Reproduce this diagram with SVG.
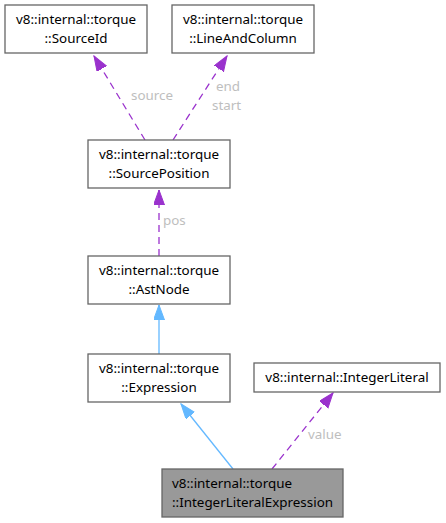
<svg xmlns="http://www.w3.org/2000/svg" width="446" height="523" viewBox="0 0 446 523">
<style>
.box{fill:#fff;stroke:#666;stroke-width:1.3}
.hl{fill:#999;stroke:#666;stroke-width:1.3}
.t{font-family:"Noto Sans",sans-serif;font-size:13.4px;fill:#000;text-anchor:middle}
.lbl{font-family:"Noto Sans",sans-serif;font-size:13.4px;fill:#bebebe}
.use{fill:none;stroke:#9a32cd;stroke-width:1.3;stroke-dasharray:7,5}
.inh{fill:none;stroke:#63b8ff;stroke-width:1.3}
</style>
<defs>
<marker id="ap" markerUnits="userSpaceOnUse" markerWidth="16" markerHeight="12" refX="15" refY="5.5" orient="auto">
<path d="M0,0 L15,5.5 L0,11 Z" fill="#9a32cd" stroke="#9a32cd"/>
</marker>
<marker id="ab" markerUnits="userSpaceOnUse" markerWidth="16" markerHeight="12" refX="15" refY="5.5" orient="auto">
<path d="M0,0 L15,5.5 L0,11 Z" fill="#63b8ff" stroke="#63b8ff"/>
</marker>
</defs>
<g id="edges">
<path class="use" d="M145,140 L94,56" marker-end="url(#ap)"/>
<path class="use" d="M173,140 L227,56" marker-end="url(#ap)"/>
<path class="use" d="M159,256 L159,190" marker-end="url(#ap)"/>
<path class="inh" d="M159,354 L159,305" marker-end="url(#ab)"/>
<path class="inh" d="M233,469 L181,404" marker-end="url(#ab)"/>
<path class="use" d="M272,469 L333,393" marker-end="url(#ap)"/>
<text class="lbl" x="131" y="100">source</text>
<text class="lbl" x="216" y="91">end</text>
<text class="lbl" x="212" y="110">start</text>
<text class="lbl" x="163" y="225">pos</text>
<text class="lbl" x="308" y="439">value</text>
</g>
<g id="SourceId">
<rect class="box" x="5" y="5" width="142" height="48"/>
<text class="t" x="76" y="24">v8::internal::torque</text>
<text class="t" x="76" y="43">::SourceId</text>
</g>
<g id="LineAndColumn">
<rect class="box" x="172" y="5" width="142" height="48"/>
<text class="t" x="243" y="24">v8::internal::torque</text>
<text class="t" x="243" y="43">::LineAndColumn</text>
</g>
<g id="SourcePosition">
<rect class="box" x="88" y="140" width="142" height="48"/>
<text class="t" x="159" y="159">v8::internal::torque</text>
<text class="t" x="159" y="178">::SourcePosition</text>
</g>
<g id="AstNode">
<rect class="box" x="88" y="256" width="142" height="48"/>
<text class="t" x="159" y="275">v8::internal::torque</text>
<text class="t" x="159" y="294">::AstNode</text>
</g>
<g id="Expression">
<rect class="box" x="88" y="354" width="142" height="48"/>
<text class="t" x="159" y="373">v8::internal::torque</text>
<text class="t" x="159" y="392">::Expression</text>
</g>
<g id="IntegerLiteral">
<rect class="box" x="254" y="363" width="186" height="29"/>
<text class="t" x="347" y="382">v8::internal::IntegerLiteral</text>
</g>
<g id="IntegerLiteralExpression">
<rect class="hl" x="162" y="469" width="181" height="48"/>
<text class="t" x="172" y="488" style="text-anchor:start">v8::internal::torque</text>
<text class="t" x="172" y="507" style="text-anchor:start">::IntegerLiteralExpression</text>
</g>
</svg>
